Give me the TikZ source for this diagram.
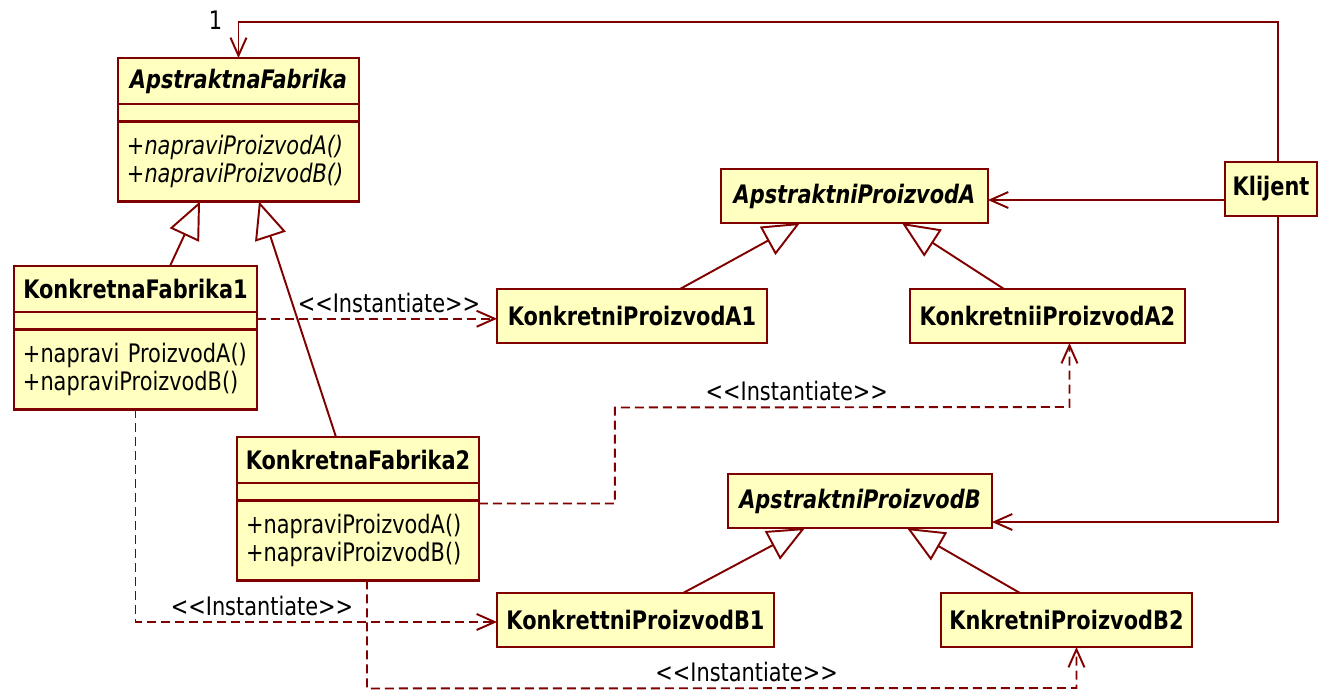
\documentclass[tikz,border=0pt]{standalone}
\usepackage{fontspec}
\setmainfont{DejaVu Sans}[FakeStretch=0.82]
\usepackage{tikz}
\usetikzlibrary{arrows.meta,positioning,calc}
\definecolor{umlred}{HTML}{800000}
\definecolor{umlfill}{HTML}{FFFFC0}
\newcommand{\umlsize}{\fontsize{14.5}{16}\selectfont}
\tikzset{
  cls/.style={rectangle, draw=umlred, fill=umlfill, line width=1.3pt, inner sep=0pt, outer sep=0pt,
              font=\umlsize\bfseries, align=center},
  clsname/.style={cls, minimum height=0.92cm},
  clsattr/.style={cls, minimum height=0.35cm},
  clsops/.style={cls, minimum height=1.6cm, font=\umlsize, align=left, inner xsep=0.18cm},
  simplecls/.style={cls, minimum height=1.08cm, anchor=north west},
  abstractcls/.style={simplecls, font=\umlsize\bfseries\itshape},
  lbl/.style={font=\umlsize, inner sep=3pt},
  assoc/.style={draw=umlred, line width=1.1pt, -{Straight Barb[length=0.36cm, width=0.32cm]}},
  dep/.style={assoc, dash pattern=on 0.18cm off 0.1cm},
  gen/.style={draw=umlred, line width=1.1pt, -{Triangle[length=0.74cm, width=0.64cm, fill=white]}}
}
\begin{document}
\begin{tikzpicture}[x=0.02cm, y=-0.02cm]
  \useasboundingbox (0,0) rectangle (1319,691);
  % factories
  \node[clsname, minimum width=4.82cm, anchor=north west, font=\umlsize\bfseries\itshape] (af) at (118,58) {ApstraktnaFabrika};
  \node[clsattr, minimum width=4.82cm, below=0pt of af] (afa) {};
  \node[clsops, text width=4.46cm, below=0pt of afa, font=\umlsize\itshape] (afo) {+napraviProizvodA()\\+napraviProizvodB()};
  \node[clsname, minimum width=4.86cm, anchor=north west] (kf1) at (14,266) {KonkretnaFabrika1};
  \node[clsattr, minimum width=4.86cm, below=0pt of kf1] (kf1a) {};
  \node[clsops, text width=4.5cm, below=0pt of kf1a] (kf1o) {+napravi ProizvodA()\\+napraviProizvodB()};
  \node[clsname, minimum width=4.84cm, anchor=north west] (kf2) at (237,437) {KonkretnaFabrika2};
  \node[clsattr, minimum width=4.84cm, below=0pt of kf2] (kf2a) {};
  \node[clsops, text width=4.48cm, below=0pt of kf2a] (kf2o) {+napraviProizvodA()\\+napraviProizvodB()};
  % products
  \node[abstractcls, minimum width=5.34cm] (apa) at (721,169) {ApstraktniProizvodA};
  \node[simplecls, minimum width=5.4cm] (kpa1) at (497,289) {KonkretniProizvodA1};
  \node[simplecls, minimum width=5.5cm] (kpa2) at (910,289) {KonkretniiProizvodA2};
  \node[abstractcls, minimum width=5.28cm] (apb) at (728,474) {ApstraktniProizvodB};
  \node[simplecls, minimum width=5.54cm] (kpb1) at (497,593) {KonkrettniProizvodB1};
  \node[simplecls, minimum width=5.02cm] (kpb2) at (941,593) {KnkretniProizvodB2};
  \node[simplecls, minimum width=1.84cm] (kl) at (1225,162) {Klijent};
  % client associations
  \draw[assoc] ($(kl.north)+(7,0)$) -- ++(0,-140) -| (af.north);
  \node[lbl] (mult) at ($(af.north)+(-23,-38)$) {1};
  \draw[assoc] ($(kl.west)+(0,11)$) -- ($(apa.east)+(0,4)$);
  \draw[assoc] ($(kl.south)+(7,0)$) |- ($(apb.east)+(0,21)$);
  % generalizations
  \draw[gen] ($(kf1.north west)+(156,0)$) -- ($(afo.south west)+(82,0)$);
  \draw[gen] ($(kf2.north west)+(99,0)$) -- ($(afo.south west)+(141,0)$);
  \draw[gen] ($(kpa1.north west)+(183,0)$) -- ($(apa.south west)+(79,0)$);
  \draw[gen] ($(kpa2.north west)+(94,0)$) -- ($(apa.south west)+(181,0)$);
  \draw[gen] ($(kpb1.north west)+(186,0)$) -- ($(apb.south west)+(77,0)$);
  \draw[gen] ($(kpb2.north west)+(79,0)$) -- ($(apb.south west)+(179,0)$);
  % instantiate
  \draw[dep] ($(kf1a.east)+(0,-2)$) -- node[lbl, above, pos=0.55] {<{}<Instantiate>{}>} ($(kf1a.east -| kpa1.west)+(0,-2)$);
  \draw[dep] ($(kf2o.north east)+(0,3)$) -- ++(136,0) -- ++(0,-96)
    -- node[lbl, above, pos=0.4] {<{}<Instantiate>{}>} ($(kpa2.south)+(22,64)$) -- ($(kpa2.south)+(22,0)$);
  \draw[dep] (kf1o.south) |- node[lbl, above, pos=0.675] {<{}<Instantiate>{}>} ($(kpb1.west)+(0,2)$);
  \draw[dep] ($(kf2o.south)+(9,0)$) -- ++(0,108)
    -- node[lbl, above, pos=0.535] {<{}<Instantiate>{}>} ($(kpb2.south)+(10,41)$) -- ($(kpb2.south)+(10,0)$);
\end{tikzpicture}
\end{document}
